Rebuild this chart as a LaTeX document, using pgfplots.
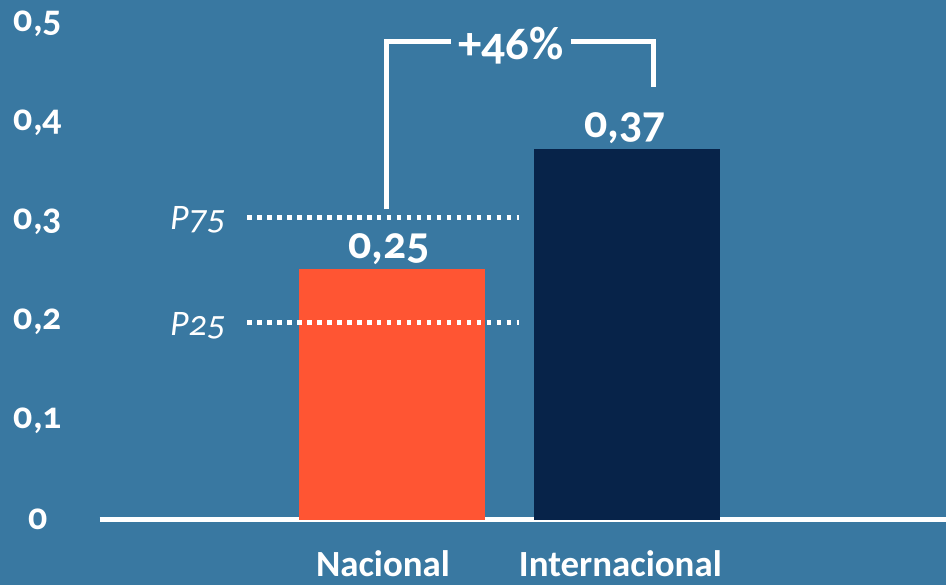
\documentclass[border=0pt]{standalone}
\usepackage{fontspec}
\setmainfont{Carlito}[Numbers=OldStyle]
\usepackage{pgfplots}
\pgfplotsset{compat=1.18}
\definecolor{bgblue}{RGB}{57,120,161}
\definecolor{barorange}{RGB}{255,85,51}
\definecolor{barnavy}{RGB}{7,35,73}
\begin{document}
\begin{tikzpicture}[x=1pt,y=1pt]
\fill[bgblue] (0,0) rectangle (948,587);
\begin{axis}[
    at={(100pt,66pt)}, anchor=south west,
    scale only axis, width=848pt, height=497pt,
    xmin=100, xmax=948, ymin=0, ymax=0.5,
    clip=false,
    axis x line*=bottom, axis y line*=left,
    x axis line style={white, line width=5pt},
    y axis line style={draw=none},
    major tick length=0pt,
    ytick={0,0.1,0.2,0.3,0.4,0.5},
    yticklabels={0,{0,1},{0,2},{0,3},{0,4},{0,5}},
    yticklabel style={anchor=center, xshift=-62pt, text=white,
        font=\fontsize{38}{40}\selectfont\bfseries},
    xtick={384,622},
    xticklabels={Nacional,Internacional},
    xticklabel style={anchor=base, inner sep=0pt, yshift=-57pt, text=white,
        font=\fontsize{37}{39}\selectfont\bfseries},
    ybar, bar width=186, bar shift=0pt,
]
\addplot[fill=barorange, draw=none] coordinates {(393,0.253)};
\addplot[fill=barnavy, draw=none] coordinates {(628.5,0.374)};
% percentiles
\addplot[sharp plot, white, line width=4.5pt, dash pattern=on 4.5pt off 5.5pt]
    coordinates {(248,0.305) (520,0.305)};
\addplot[sharp plot, white, line width=4.5pt, dash pattern=on 4.5pt off 5.5pt]
    coordinates {(248,0.199) (520,0.199)};
% bracket
\addplot[sharp plot, white, line width=5pt]
    coordinates {(388,0.313) (388,0.482) (452,0.482)};
\addplot[sharp plot, white, line width=5pt]
    coordinates {(572,0.482) (655,0.482) (655,0.436)};
\node[text=white, font=\fontsize{47}{49}\selectfont\bfseries] at (axis cs:512,0.478) {+46\%};
\node[text=white, font=\fontsize{46}{48}\selectfont\bfseries] at (axis cs:390,0.273) {0,25};
\node[text=white, font=\fontsize{46}{48}\selectfont\bfseries] at (axis cs:627,0.395) {0,37};
\node[text=white, font=\fontsize{36}{38}\selectfont\itshape] at (axis cs:198,0.302) {P75};
\node[text=white, font=\fontsize{36}{38}\selectfont\itshape] at (axis cs:198,0.196) {P25};
\end{axis}
\end{tikzpicture}
\end{document}
